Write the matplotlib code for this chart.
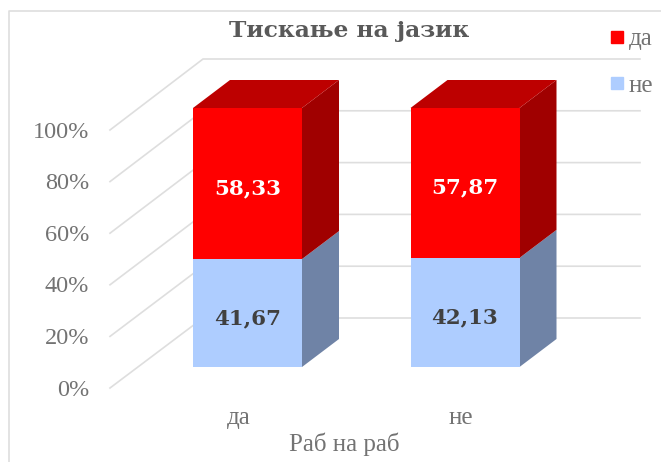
import matplotlib
matplotlib.use("Agg")
import matplotlib.pyplot as plt
from matplotlib.lines import Line2D

# Податоци
kategorii = ["да", "не"]
serija_da = [58.33, 57.87]
serija_ne = [41.67, 42.13]
oznaki_da = ["58,33", "57,87"]
oznaki_ne = ["41,67", "42,13"]
procenti = [0, 20, 40, 60, 80, 100]

W, H = 661, 462

# Размер: x во категории, y во проценти, 0% од столбот е на 367 px одозгора
PX_X = 217.5
PX_Y = 2.59
X0 = 247.5
Y0 = 367


def px_x(p):
    return (p - X0) / PX_X


def px_y(p):
    return (Y0 - p) / PX_Y


SIRINA = 109 / PX_X
DX = 37 / PX_X
DY = 28 / PX_Y

SIVA = "#dedede"
TEKST = "#737373"

fig = plt.figure(figsize=(W / 100, H / 100), dpi=100)
ax = fig.add_axes([0, 0, 1, 1])
ax.set_xlim(px_x(0), px_x(W))
ax.set_ylim(px_y(H), px_y(0))
ax.axis("off")

# Рамка, само лево и горе
ax.plot([px_x(9), px_x(9), px_x(W)], [px_y(H), px_y(11), px_y(11)], color=SIVA, lw=1.2, zorder=1)

# Мрежа: кос дел по подот па хоризонтала по задниот ѕид
pocetok_x = px_x(110)
agol_x = px_x(203)
kraj_x = px_x(640)
pomest_pred = px_y(388)
pomest_zad = px_y(318)
for p in procenti:
    y1 = p * 2.58 / PX_Y + pomest_pred
    y2 = p * 2.59 / PX_Y + pomest_zad
    ax.plot([pocetok_x, agol_x, kraj_x], [y1, y2, y2], color=SIVA, lw=1.2, zorder=1)
    ax.text(px_x(89), y1 - 0.8, str(p) + "%", ha="right", va="center",
            family="Liberation Serif", fontsize=17.5, color=TEKST)


def stranicna(x, dolu, gore, boja):
    desno = x + SIRINA / 2
    ax.fill([desno, desno + DX, desno + DX, desno],
            [dolu, dolu + DY, gore + DY, gore], color=boja, lw=0, zorder=2)


xs = list(range(len(kategorii)))
ax.bar(xs, serija_ne, width=SIRINA, color="#aecdff", zorder=3, label="не")
ax.bar(xs, serija_da, width=SIRINA, bottom=serija_ne, color="#ff0000", zorder=3, label="да")

for i in xs:
    vrv = serija_ne[i] + serija_da[i]
    stranicna(i, 0, serija_ne[i], "#6f83a6")
    stranicna(i, serija_ne[i], vrv, "#a00000")
    levo = i - SIRINA / 2
    desno = i + SIRINA / 2
    ax.fill([levo, desno, desno + DX, levo + DX],
            [vrv, vrv, vrv + DY, vrv + DY], color="#bd0000", lw=0, zorder=2)
    # Вредности во средината на сегментите
    ax.text(i, serija_ne[i] / 2 - 1.9, oznaki_ne[i], ha="center", va="center",
            family="DejaVu Serif", weight="bold", fontsize=15.4, color="#404040", zorder=4)
    ax.text(i, serija_ne[i] + serija_da[i] / 2 - 1.9, oznaki_da[i], ha="center", va="center",
            family="DejaVu Serif", weight="bold", fontsize=15.4, color="white", zorder=4)
    ax.text(i - 8.5 / PX_X + (4 / PX_X if i == 1 else 0), px_y(418), kategorii[i], ha="center", va="center",
            family="Liberation Serif", fontsize=18, color=TEKST)

ax.text(px_x(349), px_y(31), "Тискање на јазик", ha="center", va="center",
        family="DejaVu Serif", weight="bold", fontsize=16.8, color="#595959")
ax.text(px_x(344), px_y(444), "Раб на раб", ha="center", va="center",
        family="Liberation Serif", fontsize=18, color=TEKST)

# Легенда
rachki = [Line2D([], [], marker="s", ls="none", color="#ff0000", markersize=8.5),
          Line2D([], [], marker="s", ls="none", color="#aecdff", markersize=8.5)]
ax.legend(rachki, ["да", "не"], loc="upper left", bbox_to_anchor=(605.5 / W, 1 - 28 / H),
          frameon=False, prop={"family": "Liberation Serif", "size": 18}, labelcolor=TEKST,
          handlelength=0.92, handletextpad=0.0, labelspacing=0.95, borderaxespad=0, borderpad=0)

fig.savefig("out.png", dpi=100)
